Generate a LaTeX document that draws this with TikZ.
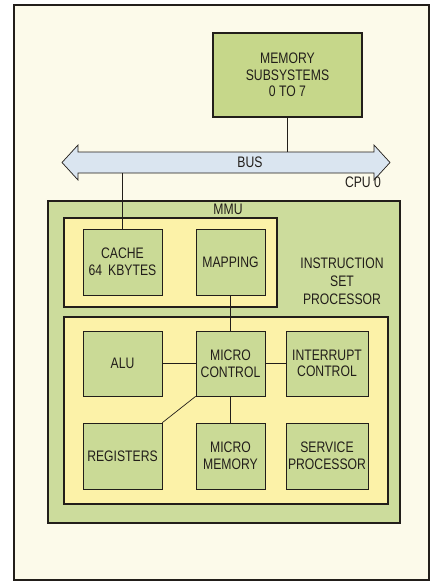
\documentclass[tikz,border=0pt]{standalone}
\usepackage{fontspec}
\setmainfont[FakeStretch=0.8]{Liberation Sans}
\usepackage{xcolor}
\definecolor{pagecream}{RGB}{252,250,234}
\definecolor{boxgreen}{RGB}{202,218,150}
\definecolor{cpugreen}{RGB}{204,220,156}
\definecolor{memgreen}{RGB}{198,215,138}
\definecolor{unityellow}{RGB}{252,242,168}
\definecolor{busblue}{RGB}{218,229,240}
\definecolor{inkline}{RGB}{34,30,26}
\usetikzlibrary{positioning}

\def\u{0.03cm}
\newcommand{\diagfont}{\fontsize{13}{14.2}\selectfont}
\tikzset{
  unit/.style 2 args={draw=inkline, fill=boxgreen, line width=0.6pt,
    minimum width=#1*\u, minimum height=#2*\u, inner sep=0pt,
    align=center, font=\diagfont, text=inkline},
  link/.style={draw=inkline, line width=0.6pt},
  lbl/.style={font=\diagfont, align=center, inner sep=0pt, text=inkline}
}

\begin{document}
\begin{tikzpicture}[x=\u, y=-\u]
  \useasboundingbox (0,0) rectangle (431,582);
  % frame
  \fill[white] (0,0) rectangle (431,582);
  \draw[inkline, fill=pagecream, line width=1.2pt] (14,5) rectangle (429,580);
  % memory
  \node[unit={149}{84}, fill=memgreen, line width=1.8pt] (mem) at (287.5,75)
       {MEMORY\\SUBSYSTEMS\\0 TO 7};
  % bus
  \draw[inkline, fill=busblue, line width=0.6pt]
       (62,162.5) -- (78,145) -- (78,152) -- (374,152) -- (374,145) -- (390,162.5)
       -- (374,180) -- (374,173) -- (78,173) -- (78,180) -- cycle;
  \node[lbl, minimum width=296*\u, minimum height=21*\u] (bus) at (250,162.5) {BUS};
  % cpu
  \draw[inkline, fill=cpugreen, line width=1.6pt] (48,201) rectangle (400,523);
  \node[lbl] (cpu) at (363,182) {CPU 0};
  \node[lbl] (mmu) at (228,209) {MMU};
  \draw[inkline, fill=unityellow, line width=2pt] (64,218) rectangle (277,307);
  \draw[inkline, fill=unityellow, line width=2pt] (64,317) rectangle (388,504);
  \node[lbl] (isp) at (342,281) {INSTRUCTION\\[1pt]SET\\[1pt]PROCESSOR};
  % units
  \node[unit={79}{66}] (cache) at (122.5,262) {CACHE\\64\, KBYTES};
  \node[unit={69}{66}] (map) at (230.5,262) {MAPPING};
  \node[unit={79}{65}] (alu) at (122.5,363.5) {ALU};
  \node[unit={69}{65}] (mctl) at (230.5,363.5) {MICRO\\CONTROL};
  \node[unit={82}{65}] (intr) at (327,363.5) {INTERRUPT\\CONTROL};
  \node[unit={79}{66}] (regs) at (122.5,456) {REGISTERS};
  \node[unit={69}{66}] (mmem) at (230.5,456) {MICRO\\MEMORY};
  \node[unit={82}{66}] (serv) at (327,456) {SERVICE\\PROCESSOR};
  % links
  \draw[link] (mem.south) -- (mem.south |- bus.north);
  \draw[link] (cache.north) -- (cache.north |- bus.south);
  \draw[link] (map) -- (mctl);
  \draw[link] (alu) -- (mctl);
  \draw[link] (mctl) -- (intr);
  \draw[link] (mctl) -- (mmem);
  \draw[link] (regs.north east) -- (mctl.south west);
\end{tikzpicture}
\end{document}
